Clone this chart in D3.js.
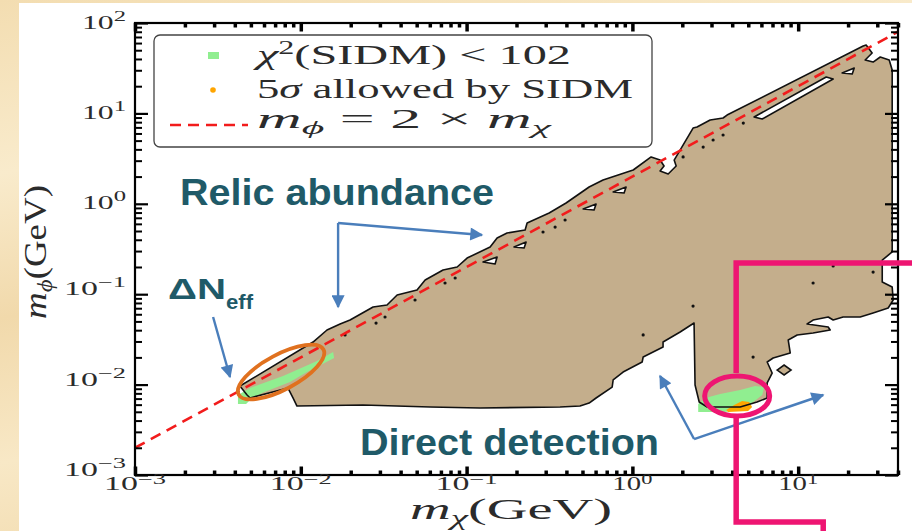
<!DOCTYPE html>
<html>
<head>
<meta charset="utf-8">
<script src="https://cdn.jsdelivr.net/npm/d3@7"></script>
<style>
  html, body { margin: 0; padding: 0; background: #f5e3bd; }
  svg { display: block; }
</style>
</head>
<body>
<svg id="chart" width="912" height="531"></svg>
<script>
// ---- Data (all positions are log10 of GeV) ----
// outline of the allowed (tan) region, [log10 m_chi, log10 m_phi]
const allowedEdge = [
  [-2.367,-2.016],[-1.926,-1.529],[-1.842,-1.396],[-1.763,-1.330],[-1.703,-1.286],[-1.564,-1.142],
  [-1.480,-1.120],[-1.419,-1.009],[-1.299,-0.954],[-1.250,-0.843],[-1.142,-0.732],[-1.057,-0.699],
  [-0.997,-0.600],[-0.858,-0.478],[-0.816,-0.378],[-0.756,-0.323],[-0.647,-0.290],[-0.635,-0.212],
  [-0.502,-0.102],[-0.400,0.009],[-0.261,0.186],[-0.177,0.263],[0.005,0.374],[0.113,0.518],
  [0.167,0.484],[0.191,0.418],[0.167,0.363],[0.216,0.330],[0.264,0.418],[0.252,0.484],
  [0.366,0.838],[0.390,0.849],[0.469,0.927],[0.547,0.949],[0.571,0.982],[1.392,1.745],
  [1.410,1.757],[1.446,1.668],[1.404,1.591],[1.452,1.568],[1.495,1.624],[1.549,1.591],
  [1.567,1.480],[1.567,-0.533],[1.507,-0.622],[1.507,-0.865],[1.567,-0.920],[1.573,-1.064],
  [1.543,-1.153],[1.452,-1.208],[1.374,-1.252],[1.271,-1.252],[1.211,-1.286],[1.181,-1.252],
  [1.090,-1.286],[1.054,-1.330],[1.181,-1.363],[1.193,-1.396],[1.090,-1.429],[0.994,-1.451],
  [0.940,-1.507],[0.952,-1.650],[0.849,-1.706],[0.813,-1.750],[0.843,-1.872],[0.813,-1.982],
  [0.813,-2.148],[0.752,-2.193],[0.650,-2.248],[0.451,-2.248],[0.403,-2.193],[0.378,-2.004],
  [0.372,-1.319],[0.288,-1.418],[0.185,-1.529],[0.185,-1.584],[0.065,-1.695],[0.059,-1.750],
  [-0.056,-1.861],[-0.116,-1.949],[-0.122,-2.027],[-0.219,-2.148],[-0.261,-2.204],[-0.316,-2.237],
  [-0.436,-2.248],[-0.919,-2.259],[-1.220,-2.248],[-1.625,-2.226],[-2.023,-2.237],[-2.047,-2.148],
  [-2.077,-2.038],[-2.306,-2.148],[-2.324,-2.115],[-2.348,-2.060]
];

// excluded holes inside the region
const holes = [
  [[-0.901,-0.644],[-0.816,-0.589],[-0.828,-0.666]],
  [[-0.714,-0.478],[-0.641,-0.423],[-0.653,-0.489]],
  [[-0.297,-0.058],[-0.219,-0.002],[-0.231,-0.069]],
  [[-0.116,0.130],[-0.038,0.186],[-0.050,0.119]],
  [[1.265,1.447],[1.338,1.502],[1.326,1.436]],
  [[0.734,0.960],[1.169,1.403],[1.211,1.381],[0.783,0.938]]
];

// small isolated allowed island
const islands = [
  [[0.873,-1.839],[0.915,-1.783],[0.957,-1.839],[0.915,-1.894]]
];

// stray single allowed points
const strayPoints = [
  [-1.733,-1.451],[-1.546,-1.319],[-1.492,-1.252],[-1.311,-1.064],[-1.130,-0.876],[-1.069,-0.821],
  [-0.539,-0.312],[-0.466,-0.257],[-0.406,-0.179],[0.306,0.518],[0.427,0.628],[0.487,0.706],
  [0.547,0.761],[0.669,0.893],[0.366,-1.131],[0.065,-1.451],[0.728,-1.695],[1.090,-0.876],
  [1.211,-0.688],[1.452,-0.755]
];

// chi^2(SIDM) < 102 patches
const sidmFit = [
  [[-2.379,-2.115],[-2.306,-2.038],[-2.107,-1.905],[-1.902,-1.739],[-1.805,-1.640],[-1.799,-1.706],
   [-1.962,-1.861],[-2.065,-1.971],[-2.234,-2.093],[-2.306,-2.170],[-2.330,-2.215],[-2.379,-2.215]],
  [[0.397,-2.215],[0.439,-2.148],[0.529,-2.104],[0.650,-2.060],[0.740,-2.016],[0.795,-2.027],
   [0.783,-2.115],[0.722,-2.204],[0.680,-2.270],[0.559,-2.303],[0.397,-2.303]]
];

// 5 sigma allowed by SIDM
const sidm5sigma = [
  [[0.566,-2.281],[0.614,-2.226],[0.662,-2.181],[0.704,-2.193],[0.722,-2.248],[0.698,-2.292],[0.578,-2.303]]
];

// m_phi = 2 m_chi reference line
const refLineX = [1e-3, 40];
const refFactor = 2;

// axes
const xDomain = [1e-3, 40];
const yDomain = [1e-3, 1e2];
const xMajorExp = [-3, -2, -1, 0, 1];
const yMajorExp = [-3, -2, -1, 0, 1, 2];

const legendLabels = ["χ²(SIDM) < 102", "5σ allowed by SIDM", "m_ϕ = 2 × m_χ"];

// annotation anchors (log10 GeV)
const relicArrow = { corner: [-1.775, -0.212], tips: [[-0.907, -0.345], [-1.775, -1.142]] };
const neffArrow = { from: [-2.529, -1.252], to: [-2.427, -1.916] };
const directArrow = { corner: [0.372, -2.602], tips: [[0.167, -1.905], [1.151, -2.115]] };
const neffCircle = [-2.119, -1.861];
const zoomCircle = [0.632, -2.126];
const zoomLeader = [
  [[1.688, -0.655], [0.626, -0.655], [0.626, -1.872]],
  [[0.626, -2.370], [0.626, -3.520], [1.151, -3.520], [1.151, -3.719]]
];

// ---- Layout ----
const svg = d3.select("#chart");
const W = 912, H = 531;
const plotL = 135, plotR = 898, plotT = 23, plotB = 475;

const x = d3.scaleLog().domain(xDomain).range([plotL, plotR]);
const y = d3.scaleLog().domain(yDomain).range([plotB, plotT]);
const px = d => x(Math.pow(10, d[0]));
const py = d => y(Math.pow(10, d[1]));

const defs = svg.append("defs");
const grad = defs.append("linearGradient").attr("id", "paper").attr("x1", 0).attr("x2", 0.3).attr("y1", 0).attr("y2", 1);
[["0%", "#f3ddb1"], ["30%", "#f9ebcc"], ["55%", "#f1d9ab"], ["80%", "#f8e8c6"], ["100%", "#f2dcb0"]]
  .forEach(([o, c]) => grad.append("stop").attr("offset", o).attr("stop-color", c));
defs.append("clipPath").attr("id", "plotClip")
  .append("rect").attr("x", plotL).attr("y", plotT).attr("width", plotR - plotL).attr("height", plotB - plotT);
defs.append("marker").attr("id", "arrowHead")
  .attr("viewBox", "0 0 10 10").attr("refX", 9).attr("refY", 5)
  .attr("markerWidth", 16).attr("markerHeight", 13).attr("markerUnits", "userSpaceOnUse")
  .attr("orient", "auto")
  .append("path").attr("d", "M0,0 L10,5 L0,10 Z").attr("fill", "#4a7ebb");

// slide background + white figure panel
svg.append("rect").attr("width", W).attr("height", H).attr("fill", "url(#paper)");
svg.append("rect").attr("x", 19).attr("y", 3).attr("width", W - 19).attr("height", H - 3).attr("fill", "#fff");

const plot = svg.append("g").attr("clip-path", "url(#plotClip)");
const line = d3.line().x(px).y(py);
const ring = pts => line(pts) + "Z";

const regionPath = ring(allowedEdge) + holes.map(ring).join("");

// tan fill
plot.append("path").attr("d", regionPath).attr("fill", "#c4ae8c").attr("fill-rule", "evenodd");
islands.forEach(isl => plot.append("path").attr("d", ring(isl)).attr("fill", "#c4ae8c"));

// SIDM patches
sidmFit.forEach(p => plot.append("path").attr("d", ring(p)).attr("fill", "#90ee90"));
sidm5sigma.forEach(p => plot.append("path").attr("d", ring(p)).attr("fill", "#ffa500"));

// outlines
plot.append("path").attr("d", regionPath).attr("fill", "none")
  .attr("stroke", "#111").attr("stroke-width", 1.6).attr("stroke-linejoin", "round");
islands.forEach(isl => plot.append("path").attr("d", ring(isl)).attr("fill", "none")
  .attr("stroke", "#111").attr("stroke-width", 1.6));

plot.selectAll("circle.stray").data(strayPoints).join("circle")
  .attr("class", "stray").attr("cx", px).attr("cy", py).attr("r", 1.6).attr("fill", "#111");

// m_phi = 2 m_chi
plot.append("path")
  .attr("d", d3.line().x(d => x(d)).y(d => y(refFactor * d))(refLineX))
  .attr("stroke", "#f21c1c").attr("stroke-width", 2.6).attr("stroke-dasharray", "11,7").attr("fill", "none");

// ---- Axes ----
const xMinor = x.ticks().filter(t => !xMajorExp.some(e => Math.abs(Math.log10(t) - e) < 1e-9));
const yMinor = y.ticks().filter(t => !yMajorExp.some(e => Math.abs(Math.log10(t) - e) < 1e-9));
const xMajor = xMajorExp.map(e => Math.pow(10, e));
const yMajor = yMajorExp.map(e => Math.pow(10, e));

function tickSet(axisFn, scale, values, size, transform, width) {
  svg.append("g").attr("transform", transform)
    .call(axisFn(scale).tickValues(values).tickSize(size).tickFormat(""))
    .call(g => g.select(".domain").remove())
    .selectAll("line").attr("stroke", "#000").attr("stroke-width", width);
}
tickSet(d3.axisBottom, x, xMinor, -4.5, `translate(0,${plotB})`, 3.5);
tickSet(d3.axisBottom, x, xMajor, -8.5, `translate(0,${plotB})`, 3.5);
tickSet(d3.axisTop, x, xMinor, -4.5, `translate(0,${plotT})`, 3.5);
tickSet(d3.axisTop, x, xMajor, -8.5, `translate(0,${plotT})`, 3.5);
tickSet(d3.axisLeft, y, yMinor, -7, `translate(${plotL},0)`, 2);
tickSet(d3.axisLeft, y, yMajor, -13, `translate(${plotL},0)`, 2.2);
tickSet(d3.axisRight, y, yMinor, -7, `translate(${plotR},0)`, 2);
tickSet(d3.axisRight, y, yMajor, -13, `translate(${plotR},0)`, 2.2);

svg.append("rect").attr("x", plotL).attr("y", plotT).attr("width", plotR - plotL).attr("height", plotB - plotT)
  .attr("fill", "none").attr("stroke", "#000").attr("stroke-width", 2.2);

const serif = "'Liberation Serif', 'DejaVu Serif', serif";
const ink = "#2b2b2b";
const expText = e => (e < 0 ? "\u2212" + (-e) : "" + e);

xMajorExp.forEach(e => {
  const t = svg.append("text").attr("x", x(Math.pow(10, e))).attr("y", plotB + 15)
    .attr("text-anchor", "middle").attr("font-family", serif).attr("font-size", 18).attr("fill", ink)
    .attr("textLength", e < 0 ? 62 : 40).attr("lengthAdjust", "spacingAndGlyphs");
  t.append("tspan").text("10");
  t.append("tspan").attr("dy", -6.5).attr("font-size", 14).text(expText(e));
});
yMajorExp.forEach(e => {
  const t = svg.append("text").attr("x", plotL - 9).attr("y", y(Math.pow(10, e)) + (e < 0 ? 1 : 5.5))
    .attr("text-anchor", "end").attr("font-family", serif).attr("font-size", 18).attr("fill", ink)
    .attr("textLength", e < 0 ? 62 : 44).attr("lengthAdjust", "spacingAndGlyphs");
  t.append("tspan").text("10");
  t.append("tspan").attr("dy", -8).attr("font-size", 14).text(expText(e));
});

// axis titles
const xt = svg.append("text").attr("x", 410).attr("y", 519).attr("font-family", serif).attr("font-size", 29)
  .attr("fill", ink).attr("textLength", 202).attr("lengthAdjust", "spacingAndGlyphs");
xt.append("tspan").attr("font-style", "italic").text("m");
xt.append("tspan").attr("font-style", "italic").attr("font-size", 20).attr("dy", 6).text("χ");
xt.append("tspan").attr("dy", -6).text("(GeV)");

const yt = svg.append("text").attr("transform", "translate(46,252) rotate(-90)").attr("text-anchor", "middle")
  .attr("font-family", serif).attr("font-size", 31).attr("fill", ink)
  .attr("textLength", 134).attr("lengthAdjust", "spacingAndGlyphs");
yt.append("tspan").attr("font-style", "italic").text("m");
yt.append("tspan").attr("font-style", "italic").attr("font-size", 21).attr("dy", 6).text("ϕ");
yt.append("tspan").attr("dy", -6).text("(GeV)");

// ---- Legend ----
const lg = svg.append("g");
lg.append("rect").attr("x", 154).attr("y", 35).attr("width", 498).attr("height", 112).attr("rx", 6)
  .attr("fill", "#fff").attr("fill-opacity", 0.9).attr("stroke", "#444").attr("stroke-width", 1.3);
lg.append("rect").attr("x", 208).attr("y", 52).attr("width", 11).attr("height", 7).attr("fill", "#90ee90");
lg.append("circle").attr("cx", 213).attr("cy", 90).attr("r", 2.8).attr("fill", "#ffa500");
lg.append("line").attr("x1", 170).attr("x2", 248).attr("y1", 125).attr("y2", 125)
  .attr("stroke", "#f21c1c").attr("stroke-width", 2.6).attr("stroke-dasharray", "11,7");

const l1 = lg.append("text").attr("x", 257).attr("y", 64).attr("font-family", serif).attr("font-size", 27)
  .attr("fill", ink).attr("textLength", 314).attr("lengthAdjust", "spacingAndGlyphs");
l1.append("tspan").attr("font-style", "italic").text(legendLabels[0].slice(0, 1));
l1.append("tspan").attr("font-size", 18).attr("dy", -10).text("2");
l1.append("tspan").attr("dy", 10).text(legendLabels[0].slice(2));

const l2 = lg.append("text").attr("x", 257).attr("y", 98).attr("font-family", serif).attr("font-size", 27)
  .attr("fill", ink).attr("textLength", 376).attr("lengthAdjust", "spacingAndGlyphs");
l2.append("tspan").text("5");
l2.append("tspan").attr("font-style", "italic").text("σ");
l2.append("tspan").text(legendLabels[1].slice(2));

const l3 = lg.append("text").attr("x", 257).attr("y", 128).attr("font-family", serif).attr("font-size", 27)
  .attr("fill", ink).attr("textLength", 294).attr("lengthAdjust", "spacingAndGlyphs");
l3.append("tspan").attr("font-style", "italic").text("m");
l3.append("tspan").attr("font-style", "italic").attr("font-size", 19).attr("dy", 6).text("ϕ");
l3.append("tspan").attr("dy", -6).text(" = 2 × ");
l3.append("tspan").attr("font-style", "italic").text("m");
l3.append("tspan").attr("font-style", "italic").attr("font-size", 19).attr("dy", 6).text("χ");

// ---- Slide annotations ----
const sans = "'Liberation Sans', Arial, sans-serif";
const teal = "#1f5a68";
svg.append("text").attr("x", 180).attr("y", 205).attr("font-family", sans).attr("font-weight", "bold")
  .attr("font-size", 37).attr("fill", teal).attr("textLength", 314).attr("lengthAdjust", "spacingAndGlyphs")
  .text("Relic abundance");
svg.append("text").attr("x", 360).attr("y", 455).attr("font-family", sans).attr("font-weight", "bold")
  .attr("font-size", 37).attr("fill", teal).attr("textLength", 299).attr("lengthAdjust", "spacingAndGlyphs")
  .text("Direct detection");
svg.append("text").attr("x", 168).attr("y", 299).attr("font-family", sans).attr("font-weight", "bold")
  .attr("font-size", 30).attr("fill", teal).attr("textLength", 58).attr("lengthAdjust", "spacingAndGlyphs")
  .text("ΔN");
svg.append("text").attr("x", 226).attr("y", 309).attr("font-family", sans).attr("font-weight", "bold")
  .attr("font-size", 21).attr("fill", teal).attr("textLength", 27).attr("lengthAdjust", "spacingAndGlyphs")
  .text("eff");

const arrowLine = pts => svg.append("path").attr("d", line(pts)).attr("fill", "none")
  .attr("stroke", "#4a7ebb").attr("stroke-width", 2.4).attr("marker-end", "url(#arrowHead)");
relicArrow.tips.forEach(t => arrowLine([relicArrow.corner, t]));
directArrow.tips.forEach(t => arrowLine([directArrow.corner, t]));
arrowLine([neffArrow.from, neffArrow.to]);

svg.append("ellipse").attr("cx", px(neffCircle)).attr("cy", py(neffCircle)).attr("rx", 48).attr("ry", 17.5)
  .attr("transform", `rotate(-28 ${px(neffCircle)} ${py(neffCircle)})`)
  .attr("fill", "none").attr("stroke", "#e0711f").attr("stroke-width", 3.8);

zoomLeader.forEach(seg => svg.append("path").attr("d", line(seg)).attr("fill", "none")
  .attr("stroke", "#ee1572").attr("stroke-width", 5.5).attr("stroke-linejoin", "miter"));
svg.append("ellipse").attr("cx", px(zoomCircle)).attr("cy", py(zoomCircle)).attr("rx", 32.5).attr("ry", 20)
  .attr("fill", "none").attr("stroke", "#ee1572").attr("stroke-width", 5);
</script>
</body>
</html>
